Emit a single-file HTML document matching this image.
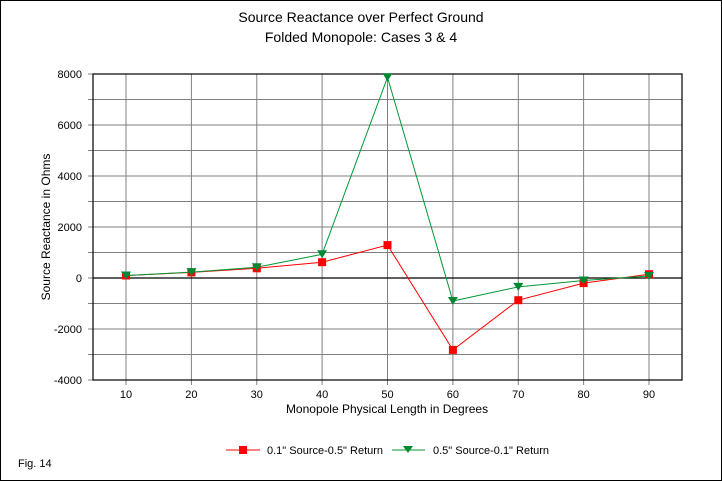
<!DOCTYPE html>
<html><head><style>body{margin:0;background:#fff}svg{display:block}text{font-family:"Liberation Sans",Arial,sans-serif}</style></head><body>
<svg width="722" height="481" viewBox="0 0 722 481" xmlns="http://www.w3.org/2000/svg">
<rect x="0.5" y="0.5" width="721" height="480" fill="#fff" stroke="#000" stroke-width="1"/>
<text x="361" y="22" font-size="14" text-anchor="middle">Source Reactance over Perfect Ground</text>
<text x="361" y="42" font-size="14" text-anchor="middle">Folded Monopole: Cases 3 &amp; 4</text>
<g stroke="#808080" stroke-width="1">
<line x1="88" x2="682" y1="99.5" y2="99.5"/><line x1="88" x2="682" y1="125" y2="125"/><line x1="88" x2="682" y1="150.5" y2="150.5"/><line x1="88" x2="682" y1="176" y2="176"/><line x1="88" x2="682" y1="201.5" y2="201.5"/><line x1="88" x2="682" y1="227" y2="227"/><line x1="88" x2="682" y1="252.5" y2="252.5"/><line x1="88" x2="682" y1="303.5" y2="303.5"/><line x1="88" x2="682" y1="329" y2="329"/><line x1="88" x2="682" y1="354.5" y2="354.5"/>
<line x1="126" x2="126" y1="74" y2="385"/><line x1="191.4" x2="191.4" y1="74" y2="385"/><line x1="256.8" x2="256.8" y1="74" y2="385"/><line x1="322.1" x2="322.1" y1="74" y2="385"/><line x1="387.5" x2="387.5" y1="74" y2="385"/><line x1="452.9" x2="452.9" y1="74" y2="385"/><line x1="518.3" x2="518.3" y1="74" y2="385"/><line x1="583.6" x2="583.6" y1="74" y2="385"/><line x1="649" x2="649" y1="74" y2="385"/>
</g>
<line x1="88" x2="93" y1="74" y2="74" stroke="#808080"/><line x1="88" x2="93" y1="380" y2="380" stroke="#808080"/><line x1="88" x2="93" y1="278" y2="278" stroke="#808080"/>
<rect x="93" y="74" width="589" height="306" fill="none" stroke="#000" stroke-width="1.2"/>
<line x1="93" x2="682" y1="278" y2="278" stroke="#000" stroke-width="1.2"/>
<g font-size="11" text-anchor="end">
<text x="82" y="78">8000</text><text x="82" y="129">6000</text><text x="82" y="180">4000</text><text x="82" y="231">2000</text><text x="82" y="282">0</text><text x="82" y="333">-2000</text><text x="82" y="384">-4000</text>
</g>
<g font-size="11" text-anchor="middle">
<text x="126" y="398">10</text><text x="191.4" y="398">20</text><text x="256.8" y="398">30</text><text x="322.1" y="398">40</text><text x="387.5" y="398">50</text><text x="452.9" y="398">60</text><text x="518.3" y="398">70</text><text x="583.6" y="398">80</text><text x="649" y="398">90</text>
</g>
<text x="387" y="413" font-size="12" text-anchor="middle">Monopole Physical Length in Degrees</text>
<text transform="translate(50,227) rotate(-90)" font-size="12" text-anchor="middle">Source Reactance in Ohms</text>
<polyline fill="none" stroke="#f00" stroke-width="1" points="126,275.5 191.4,272.4 256.8,268.3 322.1,262.2 387.5,245.1 452.9,349.9 518.3,300.2 583.6,283.1 649,274.2"/>
<g fill="#f00">
<rect x="122" y="271.5" width="8" height="8"/><rect x="187.4" y="268.4" width="8" height="8"/><rect x="252.8" y="264.3" width="8" height="8"/><rect x="318.1" y="258.2" width="8" height="8"/><rect x="383.5" y="241.1" width="8" height="8"/><rect x="448.9" y="345.9" width="8" height="8"/><rect x="514.3" y="296.2" width="8" height="8"/><rect x="579.6" y="279.1" width="8" height="8"/><rect x="645" y="270.2" width="8" height="8"/>
</g>
<polyline fill="none" stroke="#009933" stroke-width="1" points="126,275.5 191.4,272.1 256.8,267.3 322.1,254.3 387.5,77.3 452.9,301 518.3,286.9 583.6,280.5 649,276"/>
<g fill="#008833">
<path d="M121,271.5h10l-5,8z"/><path d="M186.4,268.1h10l-5,8z"/><path d="M251.8,263.3h10l-5,8z"/><path d="M317.1,250.3h10l-5,8z"/><path d="M382.5,73.3h10l-5,8z"/><path d="M447.9,297h10l-5,8z"/><path d="M513.3,282.9h10l-5,8z"/><path d="M578.6,276.5h10l-5,8z"/><path d="M644,272h10l-5,8z"/>
</g>
<line x1="226" x2="260" y1="450" y2="450" stroke="#f00"/><rect x="239" y="446" width="8" height="8" fill="#f00"/>
<text x="267" y="454" font-size="11">0.1" Source-0.5" Return</text>
<line x1="392" x2="425" y1="450" y2="450" stroke="#009933"/><path d="M403,446h10l-5,7z" fill="#008833"/>
<text x="433" y="454" font-size="11">0.5" Source-0.1" Return</text>
<text x="18" y="467" font-size="11">Fig. 14</text>
</svg>
</body></html>
